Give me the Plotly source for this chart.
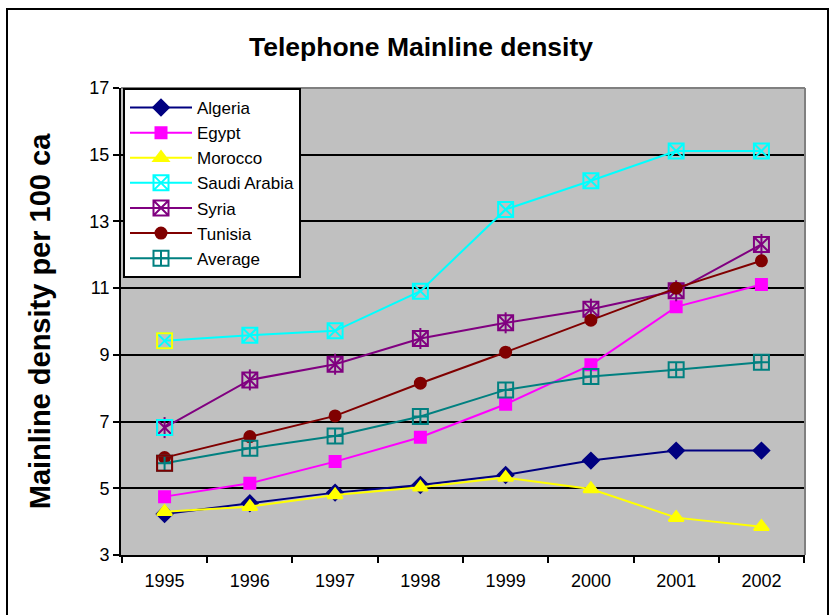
import plotly.graph_objects as go

# Telephone mainlines per 100 inhabitants, 1995-2002
years = ["1995", "1996", "1997", "1998", "1999", "2000", "2001", "2002"]

algeria = [4.23, 4.55, 4.87, 5.10, 5.40, 5.83, 6.13, 6.13]
egypt = [4.75, 5.15, 5.80, 6.53, 7.52, 8.70, 10.44, 11.11]
morocco = [4.30, 4.45, 4.80, 5.03, 5.32, 4.98, 4.12, 3.85]
saudi_arabia = [9.42, 9.59, 9.72, 10.91, 13.36, 14.22, 15.11, 15.11]
syria = [6.82, 8.25, 8.72, 9.49, 9.96, 10.37, 10.92, 12.31]
tunisia = [5.92, 6.55, 7.17, 8.15, 9.08, 10.04, 11.00, 11.82]
average = [5.75, 6.20, 6.57, 7.15, 7.95, 8.35, 8.55, 8.78]

y_ticks = [3, 5, 7, 9, 11, 13, 15, 17]

FONT = "Liberation Sans, Arial, sans-serif"

NAVY = "#000080"
MAGENTA = "#FF00FF"
YELLOW = "#FFFF00"
CYAN = "#00FFFF"
PURPLE = "#800080"
DARKRED = "#800000"
TEAL = "#008080"

fig = go.Figure()


def add_series(name, values, color, symbol, size):
    fig.add_trace(go.Scatter(
        x=years, y=values, name=name, mode="lines+markers",
        line=dict(color=color, width=2),
        marker=dict(symbol=symbol, size=size, color=color,
                    line=dict(width=2, color=color)),
    ))


def add_overlay(values, color, symbol, size, first_only=False):
    xs = years[:1] if first_only else years
    ys = values[:1] if first_only else values
    fig.add_trace(go.Scatter(
        x=xs, y=ys, mode="markers", showlegend=False, hoverinfo="skip",
        marker=dict(symbol=symbol, size=size, color=color,
                    line=dict(width=2, color=color)),
    ))


add_series("Algeria", algeria, NAVY, "diamond", 12)
add_series("Egypt", egypt, MAGENTA, "square", 11)
add_series("Morocco", morocco, YELLOW, "triangle-up", 13)
add_series("Saudi Arabia", saudi_arabia, CYAN, "square-x-open", 15)
add_series("Syria", syria, PURPLE, "square-x-open", 15)
# vertical stroke completing the Syria asterisk marker
add_overlay(syria, PURPLE, "line-ns-open", 15)
add_series("Tunisia", tunisia, DARKRED, "circle", 11)
add_series("Average", average, TEAL, "square-cross-open", 15)

# first-year marker frames drawn in a different colour
add_overlay(saudi_arabia, YELLOW, "square-open", 15, first_only=True)
add_overlay(syria, CYAN, "square-open", 15, first_only=True)
add_overlay(average, DARKRED, "square-open", 15, first_only=True)

# outer chart frame
fig.add_shape(type="rect", xref="paper", yref="paper",
              x0=(7 - 121) / 684, x1=(828 - 121) / 684,
              y0=(555 - 640) / 467, y1=(555 - 9) / 467,
              line=dict(color="black", width=2), fillcolor="rgba(0,0,0,0)", layer="above")

fig.update_layout(
    width=840, height=615,
    margin=dict(l=121, r=35, t=88, b=60),
    paper_bgcolor="white",
    plot_bgcolor="#C0C0C0",
    font=dict(family=FONT, color="black", size=18),
    title=dict(text="<b>Telephone Mainline density</b>", x=(421 - 121) / 684, xref="paper",
               xanchor="center", y=1 - 47 / 615, yanchor="middle",
               font=dict(family=FONT, size=26.5, color="black")),
    showlegend=True,
    legend=dict(x=(123 - 121) / 684, y=1.0, xanchor="left", yanchor="top",
                bgcolor="white", bordercolor="black", borderwidth=2,
                font=dict(family=FONT, size=17, color="black"),
                tracegroupgap=0, itemwidth=62),
    xaxis=dict(
        type="category", tickson="boundaries", ticks="outside", ticklen=6,
        tickcolor="black", tickwidth=1.5, showline=True, linecolor="black", linewidth=2,
        showgrid=False, zeroline=False, ticklabelstandoff=8,
        tickfont=dict(family=FONT, size=18, color="black"),
    ),
    yaxis=dict(
        range=[3, 17], tickvals=y_ticks, ticktext=[str(v) for v in y_ticks],
        ticks="outside", ticklen=6, tickcolor="black", tickwidth=1.5,
        showline=True, linecolor="black", linewidth=2,
        showgrid=True, gridcolor="black", gridwidth=1.5, zeroline=False,
        tickfont=dict(family=FONT, size=18, color="black"),
        title=dict(text="<b>Mainline density per 100 ca</b>", standoff=30,
                   font=dict(family=FONT, size=29, color="black")),
    ),
)

# grey border along the top and right of the plot area
fig.add_shape(type="line", xref="paper", yref="paper", x0=0, x1=1, y0=1, y1=1,
              line=dict(color="#808080", width=2), layer="above")
fig.add_shape(type="line", xref="paper", yref="paper", x0=1, x1=1, y0=0, y1=1,
              line=dict(color="#808080", width=2), layer="above")

fig.write_html("out.html")
